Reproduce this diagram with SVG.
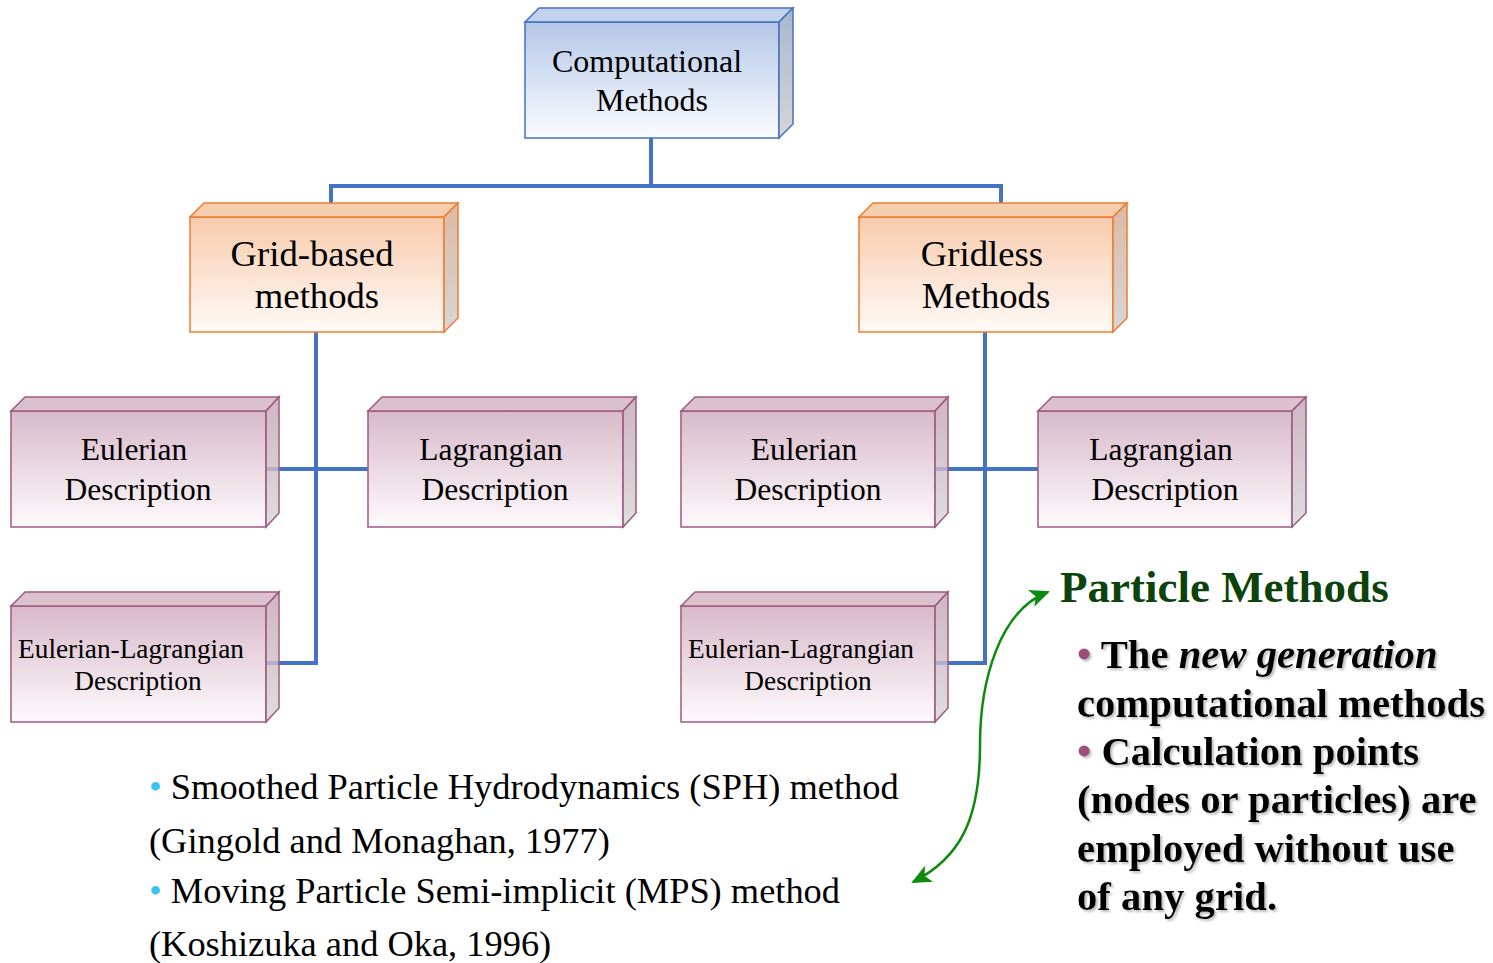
<svg xmlns="http://www.w3.org/2000/svg" width="1493" height="963" viewBox="0 0 1493 963">
<defs>
<linearGradient id="gBlue" x1="0" y1="0" x2="0" y2="1"><stop offset="0" stop-color="#B4C7E7"/><stop offset="1" stop-color="#FAFCFF"/></linearGradient>
<linearGradient id="gOrange" x1="0" y1="0" x2="0" y2="1"><stop offset="0" stop-color="#F8CBAD"/><stop offset="1" stop-color="#FFFAF7"/></linearGradient>
<linearGradient id="gPink" x1="0" y1="0" x2="0" y2="1"><stop offset="0" stop-color="#D8B9C9"/><stop offset="1" stop-color="#FDFAFC"/></linearGradient>
<linearGradient id="sBlue" x1="0" y1="0" x2="0" y2="1"><stop offset="0" stop-color="#A7B6CE"/><stop offset="1" stop-color="#D6D6D6"/></linearGradient>
<linearGradient id="sOrange" x1="0" y1="0" x2="0" y2="1"><stop offset="0" stop-color="#DDB9A5"/><stop offset="1" stop-color="#D6D6D6"/></linearGradient>
<linearGradient id="sPink" x1="0" y1="0" x2="0" y2="1"><stop offset="0" stop-color="#C2A3B3"/><stop offset="1" stop-color="#D6D6D6"/></linearGradient>
<marker id="ga" viewBox="0 0 10 10" refX="9" refY="5" markerWidth="8" markerHeight="8" orient="auto-start-reverse" markerUnits="strokeWidth"><path d="M0,0.5 L10,5 L0,9.5 L2.5,5 Z" fill="#0E8A0E"/></marker>
<filter id="shadow" x="-5%" y="-20%" width="110%" height="140%"><feDropShadow dx="2" dy="2" stdDeviation="1" flood-color="#888" flood-opacity="0.55"/></filter>
</defs>
<style>
.conn{fill:none;stroke:#4472C4;stroke-width:4}
.blue rect,.blue polygon{stroke:#4472C4;stroke-width:1.5}
.orange rect,.orange polygon{stroke:#ED7D31;stroke-width:1.5}
.pink rect,.pink polygon{stroke:#9E5A80;stroke-width:1.5}
.blue .top{fill:#C3D2EC}.orange .top{fill:#F7CDB0}.pink .top{fill:#DBC0CE}
.blue .side{fill:url(#sBlue)}.orange .side{fill:url(#sOrange)}.pink .side{fill:url(#sPink);fill-opacity:0.8}
.blue .front{fill:url(#gBlue)}.orange .front{fill:url(#gOrange)}.pink .front{fill:url(#gPink)}
.lbl{font-family:"Liberation Serif","Times New Roman",serif;fill:#000;text-anchor:middle}
.body{font-family:"Liberation Serif","Times New Roman",serif;fill:#000}
.bold{font-family:"Liberation Serif","Times New Roman",serif;font-weight:bold;fill:#000;font-size:40.7px}
</style>

<g id="connectors">
<path class="conn" d="M651,138 V186 M331,217 V186 H1001 V217"/>
<path class="conn" d="M316,332 V663 H262 M262,469 H368"/>
<path class="conn" d="M985,332 V663 H931 M931,469 H1038"/>
<path d="M1048,592 C1000,610 980,680 980,745 C980,820 960,858 913,882" fill="none" stroke="#0E8A0E" stroke-width="2.5" marker-start="url(#ga)" marker-end="url(#ga)"/>
</g>

<g id="computational" class="blue">
<rect class="front" x="525" y="22" width="254" height="116"/>
<polygon class="top" points="525,22 539,8 793,8 779,22"/>
<polygon class="side" points="779,22 793,8 793,124 779,138"/>
<text class="lbl" font-size="32" x="647" y="72">Computational</text>
<text class="lbl" font-size="32" x="652" y="111">Methods</text>
</g>

<g id="grid-based" class="orange">
<rect class="front" x="190" y="217" width="254" height="115"/>
<polygon class="top" points="190,217 204,203 458,203 444,217"/>
<polygon class="side" points="444,217 458,203 458,318 444,332"/>
<text class="lbl" font-size="36.7" x="312" y="266">Grid-based</text>
<text class="lbl" font-size="36.7" x="317" y="308">methods</text>
</g>

<g id="gridless" class="orange">
<rect class="front" x="859" y="217" width="254" height="115"/>
<polygon class="top" points="859,217 873,203 1127,203 1113,217"/>
<polygon class="side" points="1113,217 1127,203 1127,318 1113,332"/>
<text class="lbl" font-size="36.7" x="982" y="266">Gridless</text>
<text class="lbl" font-size="36.7" x="986" y="308">Methods</text>
</g>

<g id="eulerian-left" class="pink">
<rect class="front" x="11" y="411" width="255" height="116"/>
<polygon class="top" points="11,411 25,397 279,397 266,411"/>
<polygon class="side" points="266,411 279,397 279,513 266,527"/>
<text class="lbl" font-size="31.5" x="134" y="460">Eulerian</text>
<text class="lbl" font-size="31.5" x="138" y="500">Description</text>
</g>

<g id="lagrangian-left" class="pink">
<rect class="front" x="368" y="411" width="255" height="116"/>
<polygon class="top" points="368,411 382,397 636,397 623,411"/>
<polygon class="side" points="623,411 636,397 636,513 623,527"/>
<text class="lbl" font-size="31.5" x="491" y="460">Lagrangian</text>
<text class="lbl" font-size="31.5" x="495" y="500">Description</text>
</g>

<g id="eulerian-right" class="pink">
<rect class="front" x="681" y="411" width="254" height="116"/>
<polygon class="top" points="681,411 695,397 948,397 935,411"/>
<polygon class="side" points="935,411 948,397 948,513 935,527"/>
<text class="lbl" font-size="31.5" x="804" y="460">Eulerian</text>
<text class="lbl" font-size="31.5" x="808" y="500">Description</text>
</g>

<g id="lagrangian-right" class="pink">
<rect class="front" x="1038" y="411" width="254" height="116"/>
<polygon class="top" points="1038,411 1052,397 1306,397 1292,411"/>
<polygon class="side" points="1292,411 1306,397 1306,513 1292,527"/>
<text class="lbl" font-size="31.5" x="1161" y="460">Lagrangian</text>
<text class="lbl" font-size="31.5" x="1165" y="500">Description</text>
</g>

<g id="eulerian-lagrangian-left" class="pink">
<rect class="front" x="11" y="606" width="255" height="116"/>
<polygon class="top" points="11,606 25,592 279,592 266,606"/>
<polygon class="side" points="266,606 279,592 279,708 266,722"/>
<text class="lbl" font-size="27.3" x="131" y="658">Eulerian-Lagrangian</text>
<text class="lbl" font-size="27.3" x="138" y="690">Description</text>
</g>

<g id="eulerian-lagrangian-right" class="pink">
<rect class="front" x="681" y="606" width="254" height="116"/>
<polygon class="top" points="681,606 695,592 948,592 935,606"/>
<polygon class="side" points="935,606 948,592 948,708 935,722"/>
<text class="lbl" font-size="27.3" x="801" y="658">Eulerian-Lagrangian</text>
<text class="lbl" font-size="27.3" x="808" y="690">Description</text>
</g>

<g id="particle-methods">
<text x="1060" y="602" font-family="'Liberation Serif','Times New Roman',serif" font-weight="bold" font-size="45" fill="#0B430B">Particle Methods</text>
<g filter="url(#shadow)">
<text class="bold" x="1077" y="668"><tspan fill="#9B5079">•</tspan> The <tspan font-style="italic">new generation</tspan></text>
<text class="bold" x="1077" y="717">computational methods</text>
<text class="bold" x="1077" y="765"><tspan fill="#9B5079">•</tspan> Calculation points</text>
<text class="bold" x="1077" y="813">(nodes or particles) are</text>
<text class="bold" x="1077" y="862">employed without use</text>
<text class="bold" x="1077" y="910">of any grid.</text>
</g>
</g>

<g id="sph-mps">
<text class="body" font-size="36.4" x="149" y="799"><tspan fill="#3DC3F2">•</tspan> Smoothed Particle Hydrodynamics (SPH) method</text>
<text class="body" font-size="36.4" x="149" y="853">(Gingold and Monaghan, 1977)</text>
<text class="body" font-size="36.4" x="149" y="903"><tspan fill="#3DC3F2">•</tspan> Moving Particle Semi-implicit (MPS) method</text>
<text class="body" font-size="36.4" x="149" y="956">(Koshizuka and Oka, 1996)</text>
</g>
</svg>
